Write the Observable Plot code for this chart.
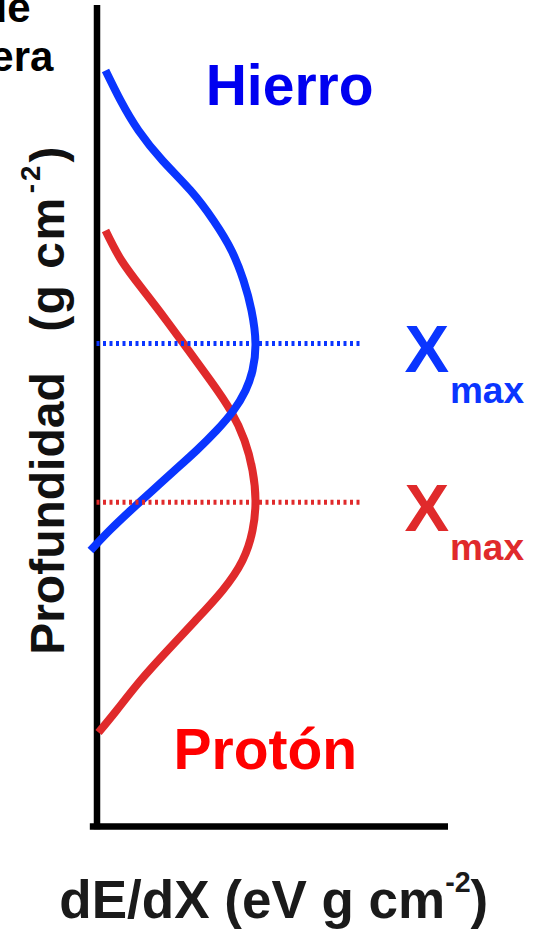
<!DOCTYPE html>
<html>
<head>
<meta charset="utf-8">
<script src="https://cdn.jsdelivr.net/npm/d3@7"></script>
<script src="https://cdn.jsdelivr.net/npm/@observablehq/plot@0.6"></script>
<style>
  html, body { margin: 0; padding: 0; background: #fff; overflow: hidden; }
  #chart svg { display: block; }
</style>
</head>
<body>
<div id="chart"></div>
<script>
// ---- data (depth in g cm^-2, energy deposit dE/dX in arbitrary units) ----
const seriesNames = ["Hierro", "Protón"];
const depthHierro = [79.2, 115.7, 152.3, 188.8, 225.3, 261.9, 298.4, 335.0, 371.5, 411.7, 444.6, 468.9, 493.3, 517.7, 542.0, 566.4, 590.7, 615.1, 639.5, 663.8];
const dedxHierro  = [2.42, 6.69, 11.81, 18.63, 26.60, 33.14, 38.26, 41.68, 43.95, 45.09, 44.24, 42.25, 38.83, 34.00, 28.31, 22.05, 15.79, 9.53, 3.56, -1.85];
const depthProton = [274.1, 310.6, 347.1, 383.7, 420.2, 456.8, 493.3, 529.8, 566.4, 602.9, 639.5, 676.0, 712.5, 749.1, 785.6, 822.2, 858.7, 885.5];
const dedxProton  = [2.42, 6.97, 13.23, 19.77, 26.03, 32.29, 37.98, 41.96, 44.24, 45.09, 44.24, 41.39, 35.70, 28.02, 20.06, 12.38, 5.55, 0.43];
const xmaxDepth   = [411.7, 605];    // Hierro, Protón
const xmaxExtent  = [0, 75.5];       // dE/dX span of the dotted Xmax lines

const hierro = depthHierro.map((d, i) => ({depth: d, dedx: dedxHierro[i]}));
const proton = depthProton.map((d, i) => ({depth: d, dedx: dedxProton[i]}));

const FONT = "'Liberation Sans', Arial, Helvetica, sans-serif";
const BLUE = "#0a35ff", BLUE_TXT = "#0000f0";
const RED = "#e02a2b", RED_TXT = "#ff0000";

const plot = Plot.plot({
  width: 533,
  height: 931,
  x: {domain: [0, 100], range: [96.5, 448], axis: null},
  y: {domain: [0, 1000], range: [5, 826], axis: null},
  style: {fontFamily: FONT, background: "#fff", overflow: "visible"},
  marks: [
    // axes
    Plot.ruleX([0], {y1: 0, y2: 1004, stroke: "#000", strokeWidth: 6.5}),
    Plot.ruleY([1000], {x1: -1.9, x2: 100, stroke: "#000", strokeWidth: 6.5}),
    // curves
    Plot.line(proton, {x: "dedx", y: "depth", curve: "natural", stroke: RED, strokeWidth: 8, strokeLinecap: "butt"}),
    Plot.line(hierro, {x: "dedx", y: "depth", curve: "natural", stroke: BLUE, strokeWidth: 8, strokeLinecap: "butt"}),
    // Xmax dotted lines
    Plot.ruleY([xmaxDepth[0]], {x1: xmaxExtent[0], x2: xmaxExtent[1], stroke: BLUE, strokeWidth: 5, strokeDasharray: "3,3.5"}),
    Plot.ruleY([xmaxDepth[1]], {x1: xmaxExtent[0], x2: xmaxExtent[1], stroke: RED, strokeWidth: 5, strokeDasharray: "3,3.5"}),
    // series names
    Plot.text([{x: 54.8, y: 121.8, t: seriesNames[0]}], {x: "x", y: "y", text: "t", fill: BLUE_TXT, fontSize: 57, fontWeight: "bold", textAnchor: "middle", lineAnchor: "bottom"}),
    Plot.text([{x: 47.9, y: 929.4, t: seriesNames[1]}], {x: "x", y: "y", text: "t", fill: RED_TXT, fontSize: 57, fontWeight: "bold", textAnchor: "middle", lineAnchor: "bottom"}),
    // Xmax labels
    Plot.text([{x: 87.5, y: 447, t: "X"}], {x: "x", y: "y", text: "t", fill: BLUE, fontSize: 67, fontWeight: "bold", textAnchor: "start", lineAnchor: "bottom"}),
    Plot.text([{x: 100.4, y: 483.6, t: "max"}], {x: "x", y: "y", text: "t", fill: BLUE, fontSize: 37, fontWeight: "bold", textAnchor: "start", lineAnchor: "bottom"}),
    Plot.text([{x: 87.5, y: 639.5, t: "X"}], {x: "x", y: "y", text: "t", fill: RED, fontSize: 67, fontWeight: "bold", textAnchor: "start", lineAnchor: "bottom"}),
    Plot.text([{x: 100.4, y: 676, t: "max"}], {x: "x", y: "y", text: "t", fill: RED, fontSize: 37, fontWeight: "bold", textAnchor: "start", lineAnchor: "bottom"}),
    // axis titles
    Plot.text([{x: 50.3, y: 1112, t: "dE/dX (eV g cm^-2)"}], {x: "x", y: "y", text: "t", fill: "#1a1a1a", fontSize: 53, fontWeight: "bold", textAnchor: "middle", lineAnchor: "bottom"}),
    Plot.text([{x: -9.5, y: 618.8, t: "Profundidad"}], {x: "x", y: "y", text: "t", fill: "#111", fontSize: 48, fontWeight: "bold", textAnchor: "middle", lineAnchor: "bottom", rotate: -90}),
    Plot.text([{x: -9.5, y: 283.8, t: "(g cm^-2)"}], {x: "x", y: "y", text: "t", fill: "#111", fontSize: 48, fontWeight: "bold", textAnchor: "middle", lineAnchor: "bottom", rotate: -90}),
    // cropped top-left note
    Plot.text([{x: -18.9, y: 20.7, t: "Tope de"}], {x: "x", y: "y", text: "t", fill: "#000", fontSize: 42, fontWeight: "bold", textAnchor: "end", lineAnchor: "bottom"}),
    Plot.text([{x: -12.4, y: 79.2, t: "la atmósfera"}], {x: "x", y: "y", text: "t", fill: "#000", fontSize: 42, fontWeight: "bold", textAnchor: "end", lineAnchor: "bottom"})
  ]
});

document.getElementById("chart").appendChild(plot);

// superscripts: "a^b)" -> a<tspan sup>b</tspan>)
d3.select(plot).selectAll("text").each(function () {
  const s = this.textContent;
  const m = s.match(/^(.*)\^([^)]+)(\).*)$/);
  if (!m) return;
  const fs = parseFloat(getComputedStyle(this).fontSize) || 48;
  const rotated = (this.getAttribute("transform") || "").includes("rotate");
  const supFs = fs * (rotated ? 0.58 : 0.54);
  const raise = fs * 0.5;
  const sel = d3.select(this);
  sel.text(null);
  if (rotated) sel.attr("letter-spacing", 1.5);
  sel.append("tspan").text(m[1]);
  const sup = sel.append("tspan").attr("font-size", supFs).attr("dy", -raise).text(m[2]);
  if (rotated) sup.attr("letter-spacing", 3).attr("dx", 3);
  sel.append("tspan").attr("dy", raise).text(m[3]);
});
</script>
</body>
</html>
